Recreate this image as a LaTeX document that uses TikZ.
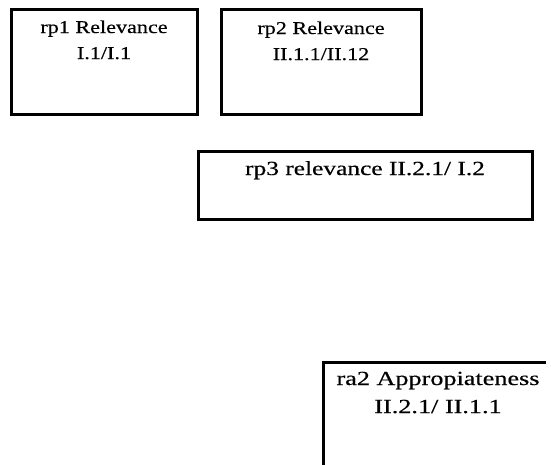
\documentclass[tikz,border=0pt]{standalone}
\usepackage{fontspec}
\setmainfont{Liberation Serif}[FakeBold=0.4]
\usepackage{graphicx}
% widened lettering for the box labels: \wideline{factor}{text}
\newcommand{\wideline}[2]{\scalebox{#1}[1]{#2}}
\begin{document}
\begin{tikzpicture}[x=1pt,y=-1pt,
  frame/.style={draw=black, line width=3pt, line join=miter},
  boxtext/.style={inner sep=0pt, align=center, anchor=base},
  smalltext/.style={boxtext, font=\fontsize{18}{26}\selectfont},
  bigtext/.style={boxtext, font=\fontsize{20}{28}\selectfont}]
  \useasboundingbox (0,0) rectangle (551,464);
  \clip (0,0) rectangle (551,464);

  % upper pair of boxes (label anchored on the baseline of its last line)
  \draw[frame] (11.5,9.5) rectangle (197.5,114);
  \coordinate (b1) at (104,59);
  \node[smalltext] (t1) at (b1) {\wideline{1.23}{rp1 Relevance}\\\wideline{1.23}{I.1/I.1}};

  \draw[frame] (221.5,9.5) rectangle (421,114);
  \coordinate (b2) at (321,60);
  \node[smalltext] (t2) at (b2) {\wideline{1.23}{rp2 Relevance}\\\wideline{1.23}{II.1.1/II.12}};

  % single-line box
  \draw[frame] (198.5,151) rectangle (532,219);
  \coordinate (b3) at (365,175);
  \node[bigtext] (t3) at (b3) {\wideline{1.27}{rp3 relevance II.2.1/ I.2}};

  % open box along the lower right corner: top and left sides only
  \draw[frame] (546,362.5) -- (323,362.5) -- (323,600);
  \coordinate (b4) at (438,413);
  \node[bigtext] (t4) at (b4) {\wideline{1.31}{ra2 Appropiateness}\\\wideline{1.31}{II.2.1/ II.1.1}};
\end{tikzpicture}
\end{document}
